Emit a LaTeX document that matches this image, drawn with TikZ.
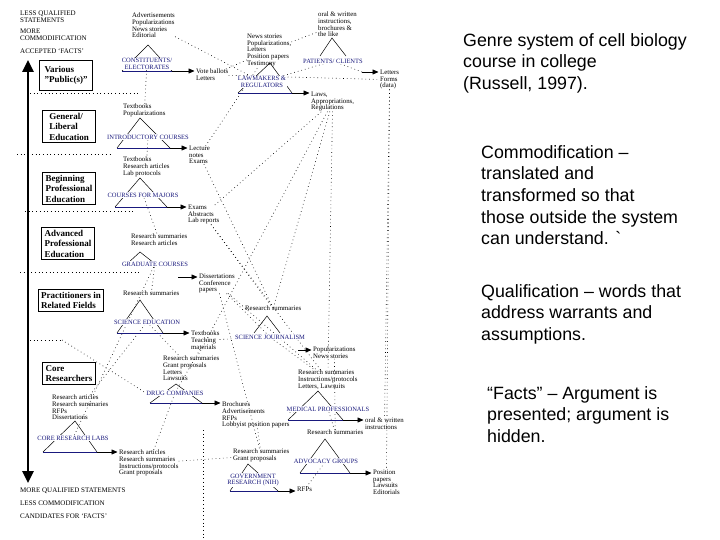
\documentclass[tikz,border=0pt]{standalone}
\usepackage{fontspec}
\setmainfont{Liberation Serif}
\newfontfamily\notefont[Ligatures=TeX]{Liberation Sans}
\usetikzlibrary{arrows.meta, positioning, backgrounds}
\definecolor{sysblue}{RGB}{25, 25, 125}

\begin{document}
\begin{tikzpicture}[x=1pt, y=-1pt,
    level/.style={draw, line width=1.1pt, anchor=north west, align=left, inner sep=2.5pt, minimum width=53pt, font=\fontsize{9}{10.5}\selectfont\bfseries},
    genre/.style={anchor=north west, align=left, inner sep=0pt, font=\fontsize{6.8}{6.6}\selectfont},
    system/.style={align=center, inner sep=0.5pt, fill=white, text=sysblue, font=\fontsize{6.5}{6.6}\selectfont},
    endlabel/.style={anchor=north west, align=left, inner sep=0pt, font=\fontsize{7}{6.6}\selectfont},
    side/.style={line width=0.5pt},
    sysbase/.style={sysblue, line width=0.8pt},
    output/.style={line width=0.7pt, shorten >=1.5pt, -{Triangle[length=6pt, width=5pt]}},
    web/.style={line width=0.6pt, dash pattern=on 0.7pt off 3pt},
    qualaxis/.style={line width=2.5pt, {Triangle[length=12pt, width=11pt]}-{Triangle[length=12pt, width=11pt]}},
    note/.style={anchor=north west, align=left, inner sep=0pt, font=\notefont\fontsize{17.8}{21.7}\selectfont}
]
    \useasboundingbox (0,0) rectangle (720,540);

    % Scale of statements
    \node[endlabel] (lessq) at (20,11) {LESS QUALIFIED\\STATEMENTS};
    \node[endlabel] (morec) at (20,29) {MORE\\COMMODIFICATION};
    \node[endlabel] (acc) at (20,49) {ACCEPTED `FACTS'};
    \node[endlabel] (moreq) at (20,488) {MORE QUALIFIED STATEMENTS};
    \node[endlabel] (lessc) at (20,501) {LESS COMMODIFICATION};
    \node[endlabel] (cand) at (20,514) {CANDIDATES FOR `FACTS'};
    \coordinate (top) at (28,60);
    \coordinate (bottom) at (28,483);
    \draw[qualaxis] (top) -- (bottom);

    % Levels
    \node[level, minimum height=30pt] (pub) at (39,60) {Various\\"Public(s)"};
    \node[level] (gen) at (42,110) {General/\\Liberal\\Education};
    \node[level] (beg) at (42,172) {Beginning\\Professional\\Education};
    \node[level] (advp) at (41,227) {Advanced\\Professional\\Education};
    \node[level] (prac) at (38,289) {Practitioners in\\Related Fields};
    \node[level] (corer) at (42,362) {Core\\Researchers};

    % Triangles
    \foreach \ax/\ay/\lx/\ly/\rx/\ry in {148/45/122/71/172/71, 270/63/238/93/292/93,
        332/38/320/56/346/56, 140/118/117/148/170/148, 140/178/115/207/167/207,
        140/252/128/263/154/263, 140/300/117/333/163/333, 267/316/254/333/280/333,
        176/384/150/403/202/403, 318/391/288/420/343/420, 325/439/300/473/350/473,
        248/464/230/491/278/491, 75/421/43/452/97/452}
        \draw[side] (\lx,\ly) -- (\ax,\ay) -- (\rx,\ry);

    % Base lines
    \foreach \n/\lx/\rx/\by in {elect/122/172/71, law/238/292/93, intro/117/170/148,
        major/115/167/207, scied/117/163/333, drug/150/202/403, med/288/343/420,
        adv/300/350/473, gov/230/278/491, core/43/97/452} {
        \draw[sysbase] (\lx,\by) -- (\rx,\by);
        \coordinate (\n-r) at (\rx,\by);
    }
    \coordinate (pat-r) at (362,72);
    \coordinate (grad-r) at (178,277);
    \coordinate (journ-r) at (298,350);

    % Activity systems
    \node[system] (elect) at (147,64) {CONSTITUENTS/\\ELECTORATES};
    \node[system] (law) at (262,82) {LAWMAKERS \&\\REGULATORS};
    \node[system] (pat) at (333,61) {PATIENTS/ CLIENTS};
    \node[system] (intro) at (148,137) {INTRODUCTORY COURSES};
    \node[system] (major) at (143,195) {COURSES FOR MAJORS};
    \node[system] (grad) at (155,264) {GRADUATE COURSES};
    \node[system] (scied) at (147,322) {SCIENCE EDUCATION};
    \node[system] (journ) at (270,337) {SCIENCE JOURNALISM};
    \node[system] (drug) at (175,393) {DRUG COMPANIES};
    \node[system] (med) at (328,409) {MEDICAL PROFESSIONALS};
    \node[system] (adv) at (326,461) {ADVOCACY GROUPS};
    \node[system] (gov) at (253,480) {GOVERNMENT\\RESEARCH (NIH)};
    \node[system] (core) at (73,438) {CORE RESEARCH LABS};

    % Genres used
    \node[genre] (elect-g) at (132,13) {Advertisements\\Popularizations\\News stories\\Editorial};
    \node[genre] (law-g) at (247,34) {News stories\\Popularizations,\\Letters\\Position papers\\Testimony};
    \node[genre] (pat-g) at (318,12) {oral \& written\\instructions,\\brochures \&\\the like};
    \node[genre] (intro-g) at (123,104) {Textbooks\\Popularizations};
    \node[genre] (major-g) at (123,157) {Textbooks\\Research articles\\Lab protocols};
    \node[genre] (grad-g) at (131,234) {Research summaries\\Research articles};
    \node[genre] (scied-g) at (123,291) {Research summaries};
    \node[genre] (journ-g) at (245,306) {Research summaries};
    \node[genre] (drug-g) at (163,356) {Research summaries\\Grant proposals\\Letters\\Lawsuits};
    \node[genre] (med-g) at (298,370) {Research summaries\\Instructions/protocols\\Letters, Lawsuits};
    \node[genre] (adv-g) at (307,430) {Research summaries};
    \node[genre] (gov-g) at (233,449) {Research summaries\\Grant proposals};
    \node[genre] (core-g) at (52,395) {Research articles\\Research summaries\\RFPs\\Dissertations};

    % Genres produced
    \node[genre] (elect-out) at (196,69) {Vote ballots\\Letters};
    \node[genre] (law-out) at (311,92) {Laws,\\Appropriations,\\Regulations};
    \node[genre] (pat-out) at (380,70) {Letters\\Forms\\(data)};
    \node[genre] (intro-out) at (189,146) {Lecture\\notes\\Exams};
    \node[genre] (major-out) at (188,205) {Exams\\Abstracts\\Lab reports};
    \node[genre] (grad-out) at (199,274) {Dissertations\\Conference\\papers};
    \node[genre] (scied-out) at (191,331) {Textbooks\\Teaching\\materials};
    \node[genre] (journ-out) at (313,347) {Popularizations\\News stories};
    \node[genre] (drug-out) at (222,402) {Brochures\\Advertisements\\RFPs\\Lobbyist position papers};
    \node[genre] (med-out) at (365,418) {oral \& written\\instructions};
    \node[genre] (adv-out) at (373,470) {Position\\papers\\Lawsuits\\Editorials};
    \node[genre] (gov-out) at (297,487) {RFPs};
    \node[genre] (core-out) at (119,450) {Research articles\\Research summaries\\Instructions/protocols\\Grant proposals};

    \foreach \n in {elect, law, pat, intro, major, grad, scied, journ, drug, med, adv, gov, core}
        \draw[output] (\n-r) -- (\n-out.west |- \n-r);

    % Web of genres
    \begin{scope}[on background layer]
        \foreach \y/\a/\b in {93/30/140, 154/17/110, 211/25/135, 272/20/140, 340/30/62}
            \draw[web] (\a,\y) -- (\b,\y);
        \draw[web] (62,340) -- (drug.west);
        \draw[web] (203,430) -- (203,538);
        \foreach \a/\b in {elect-out/law-g, elect/intro-g, law-out/journ-g, law-out/med-g,
            law-out/drug-g, pat-out/med-out, pat-out/adv-out, pat/law, intro-out/law-g,
            intro/major-g, major/grad-g, major-out/journ-g, grad/scied-g, grad-out/med-g,
            scied/drug-g, scied-out/journ, journ/med-g, journ-out/adv-g, core-out/gov-g,
            core-out/drug, core-g/scied, drug-out/med, drug-out/gov-g, med/adv-g,
            gov-out/adv, core/grad, elect-out/pat-out, major-out/law-out, grad-out/gov-g,
            pat-r/pat, intro-out/journ-g, major-out/med-g, scied-out/drug, grad-out/journ,
            law-g/pat-g, elect-g/law}
            \draw[web] (\a) -- (\b);
    \end{scope}

    % Notes
    \node[note] (title) at (463,33) {Genre system of cell biology\\course in college\\(Russell, 1997).};
    \node[note] (commod) at (481,145) {Commodification --\\translated and\\transformed so that\\those outside the system\\can understand. \textasciigrave};
    \node[note] (qualif) at (481,284) {Qualification -- words that\\address warrants and\\assumptions.};
    \node[note] (facts) at (487,386) {``Facts'' -- Argument is\\presented; argument is\\hidden.};
\end{tikzpicture}
\end{document}
